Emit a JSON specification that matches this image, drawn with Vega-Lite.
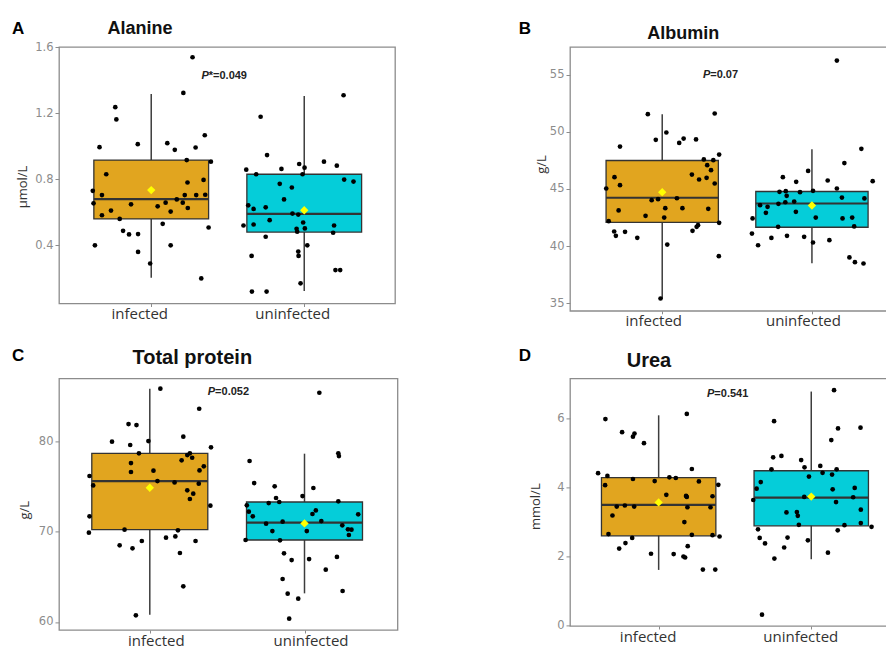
{
"$schema": "https://vega.github.io/schema/vega-lite/v6.json",
"padding": {"left": 10, "top": 18, "right": 0, "bottom": 0},
"background": "white",
"config": {"view": {"stroke": "#8c8c8c", "strokeWidth": 1.3}, "axis": {"grid": false, "domain": false, "tickColor": "#8c8c8c", "tickWidth": 1}, "font": "Liberation Sans"},
"datasets": {
"box": [
{"panel":"A","group":"infected","lower":0.204,"q1":0.56,"median":0.68,"q3":0.916,"upper":1.316,"mean":0.734},
{"panel":"A","group":"uninfected","lower":0.124,"q1":0.48,"median":0.59,"q3":0.83,"upper":1.304,"mean":0.612},
{"panel":"B","group":"infected","lower":35.38,"q1":42.06,"median":44.22,"q3":47.48,"upper":51.53,"mean":44.71},
{"panel":"B","group":"uninfected","lower":38.5,"q1":41.64,"median":43.72,"q3":44.77,"upper":48.47,"mean":43.54},
{"panel":"C","group":"infected","lower":60.81,"q1":70.22,"median":75.61,"q3":78.67,"upper":85.84,"mean":74.87},
{"panel":"C","group":"uninfected","lower":63.17,"q1":69.08,"median":71.0,"q3":73.29,"upper":78.64,"mean":70.92},
{"panel":"D","group":"infected","lower":1.6,"q1":2.59,"median":3.49,"q3":4.28,"upper":6.09,"mean":3.56},
{"panel":"D","group":"uninfected","lower":1.91,"q1":2.88,"median":3.7,"q3":4.48,"upper":6.78,"mean":3.73}
],
"ptext": [
{"panel":"A","label":"*=0.049"},
{"panel":"B","label":"=0.07"},
{"panel":"C","label":"=0.052"},
{"panel":"D","label":"=0.541"}
],
"pts": [
{"panel":"A","group":"infected","value":1.538,"jitter":0.27},{"panel":"A","group":"infected","value":1.322,"jitter":0.21},{"panel":"A","group":"infected","value":1.236,"jitter":-0.235},{"panel":"A","group":"infected","value":1.162,"jitter":-0.228},{"panel":"A","group":"infected","value":1.066,"jitter":0.35},{"panel":"A","group":"infected","value":0.994,"jitter":-0.338},{"panel":"A","group":"infected","value":1.012,"jitter":-0.088},{"panel":"A","group":"infected","value":1.018,"jitter":0.105},{"panel":"A","group":"infected","value":0.978,"jitter":0.154},{"panel":"A","group":"infected","value":0.992,"jitter":0.29},{"panel":"A","group":"infected","value":0.916,"jitter":0.232},{"panel":"A","group":"infected","value":0.906,"jitter":0.39},{"panel":"A","group":"infected","value":0.83,"jitter":-0.294},{"panel":"A","group":"infected","value":0.78,"jitter":0.237},{"panel":"A","group":"infected","value":0.796,"jitter":0.342},{"panel":"A","group":"infected","value":0.73,"jitter":-0.382},{"panel":"A","group":"infected","value":0.704,"jitter":-0.322},{"panel":"A","group":"infected","value":0.654,"jitter":-0.377},{"panel":"A","group":"infected","value":0.648,"jitter":-0.132},{"panel":"A","group":"infected","value":0.61,"jitter":-0.263},{"panel":"A","group":"infected","value":0.582,"jitter":-0.322},{"panel":"A","group":"infected","value":0.56,"jitter":-0.206},{"panel":"A","group":"infected","value":0.636,"jitter":0.042},{"panel":"A","group":"infected","value":0.658,"jitter":0.094},{"panel":"A","group":"infected","value":0.604,"jitter":0.127},{"panel":"A","group":"infected","value":0.678,"jitter":0.167},{"panel":"A","group":"infected","value":0.658,"jitter":0.206},{"panel":"A","group":"infected","value":0.704,"jitter":0.219},{"panel":"A","group":"infected","value":0.626,"jitter":0.239},{"panel":"A","group":"infected","value":0.704,"jitter":0.294},{"panel":"A","group":"infected","value":0.706,"jitter":0.353},{"panel":"A","group":"infected","value":0.53,"jitter":0.075},{"panel":"A","group":"infected","value":0.488,"jitter":-0.184},{"panel":"A","group":"infected","value":0.466,"jitter":-0.145},{"panel":"A","group":"infected","value":0.468,"jitter":-0.086},{"panel":"A","group":"infected","value":0.508,"jitter":0.375},{"panel":"A","group":"infected","value":0.4,"jitter":-0.368},{"panel":"A","group":"infected","value":0.4,"jitter":0.127},{"panel":"A","group":"infected","value":0.36,"jitter":-0.086},{"panel":"A","group":"infected","value":0.29,"jitter":-0.007},{"panel":"A","group":"infected","value":0.2,"jitter":0.327},
{"panel":"A","group":"uninfected","value":1.308,"jitter":0.257},{"panel":"A","group":"uninfected","value":1.178,"jitter":-0.285},{"panel":"A","group":"uninfected","value":0.946,"jitter":-0.243},{"panel":"A","group":"uninfected","value":0.858,"jitter":-0.379},{"panel":"A","group":"uninfected","value":0.83,"jitter":-0.314},{"panel":"A","group":"uninfected","value":0.862,"jitter":-0.149},{"panel":"A","group":"uninfected","value":0.892,"jitter":-0.033},{"panel":"A","group":"uninfected","value":0.87,"jitter":0.002},{"panel":"A","group":"uninfected","value":0.83,"jitter":-0.011},{"panel":"A","group":"uninfected","value":0.906,"jitter":0.129},{"panel":"A","group":"uninfected","value":0.882,"jitter":0.213},{"panel":"A","group":"uninfected","value":0.798,"jitter":0.261},{"panel":"A","group":"uninfected","value":0.786,"jitter":0.322},{"panel":"A","group":"uninfected","value":0.772,"jitter":-0.16},{"panel":"A","group":"uninfected","value":0.75,"jitter":-0.081},{"panel":"A","group":"uninfected","value":0.678,"jitter":-0.132},{"panel":"A","group":"uninfected","value":0.642,"jitter":-0.366},{"panel":"A","group":"uninfected","value":0.62,"jitter":-0.331},{"panel":"A","group":"uninfected","value":0.63,"jitter":-0.252},{"panel":"A","group":"uninfected","value":0.592,"jitter":-0.077},{"panel":"A","group":"uninfected","value":0.586,"jitter":-0.039},{"panel":"A","group":"uninfected","value":0.52,"jitter":-0.397},{"panel":"A","group":"uninfected","value":0.526,"jitter":-0.331},{"panel":"A","group":"uninfected","value":0.552,"jitter":-0.226},{"panel":"A","group":"uninfected","value":0.538,"jitter":-0.007},{"panel":"A","group":"uninfected","value":0.5,"jitter":-0.05},{"panel":"A","group":"uninfected","value":0.482,"jitter":-0.046},{"panel":"A","group":"uninfected","value":0.502,"jitter":0.004},{"panel":"A","group":"uninfected","value":0.52,"jitter":0.195},{"panel":"A","group":"uninfected","value":0.476,"jitter":0.189},{"panel":"A","group":"uninfected","value":0.452,"jitter":-0.252},{"panel":"A","group":"uninfected","value":0.4,"jitter":0.02},{"panel":"A","group":"uninfected","value":0.336,"jitter":-0.344},{"panel":"A","group":"uninfected","value":0.362,"jitter":-0.039},{"panel":"A","group":"uninfected","value":0.336,"jitter":-0.037},{"panel":"A","group":"uninfected","value":0.25,"jitter":0.204},{"panel":"A","group":"uninfected","value":0.25,"jitter":0.235},{"panel":"A","group":"uninfected","value":0.17,"jitter":-0.024},{"panel":"A","group":"uninfected","value":0.12,"jitter":-0.342},{"panel":"A","group":"uninfected","value":0.12,"jitter":-0.246},
{"panel":"B","group":"infected","value":51.53,"jitter":-0.094},{"panel":"B","group":"infected","value":51.59,"jitter":0.343},{"panel":"B","group":"infected","value":49.93,"jitter":0.027},{"panel":"B","group":"infected","value":49.29,"jitter":-0.042},{"panel":"B","group":"infected","value":49.02,"jitter":0.111},{"panel":"B","group":"infected","value":49.4,"jitter":0.14},{"panel":"B","group":"infected","value":49.32,"jitter":0.221},{"panel":"B","group":"infected","value":48.7,"jitter":-0.276},{"panel":"B","group":"infected","value":47.57,"jitter":0.272},{"panel":"B","group":"infected","value":47.51,"jitter":0.334},{"panel":"B","group":"infected","value":48.0,"jitter":0.372},{"panel":"B","group":"infected","value":47.07,"jitter":0.294},{"panel":"B","group":"infected","value":46.63,"jitter":0.319},{"panel":"B","group":"infected","value":46.25,"jitter":0.194},{"panel":"B","group":"infected","value":45.82,"jitter":0.241},{"panel":"B","group":"infected","value":45.96,"jitter":0.29},{"panel":"B","group":"infected","value":45.47,"jitter":0.343},{"panel":"B","group":"infected","value":46.02,"jitter":-0.312},{"panel":"B","group":"infected","value":45.32,"jitter":-0.276},{"panel":"B","group":"infected","value":45.03,"jitter":-0.366},{"panel":"B","group":"infected","value":44.01,"jitter":-0.069},{"panel":"B","group":"infected","value":44.1,"jitter":-0.027},{"panel":"B","group":"infected","value":44.18,"jitter":0.096},{"panel":"B","group":"infected","value":43.11,"jitter":-0.285},{"panel":"B","group":"infected","value":42.64,"jitter":-0.109},{"panel":"B","group":"infected","value":43.31,"jitter":0.02},{"panel":"B","group":"infected","value":43.31,"jitter":0.132},{"panel":"B","group":"infected","value":43.25,"jitter":0.301},{"panel":"B","group":"infected","value":42.49,"jitter":0.013},{"panel":"B","group":"infected","value":42.17,"jitter":-0.35},{"panel":"B","group":"infected","value":42.03,"jitter":0.372},{"panel":"B","group":"infected","value":41.82,"jitter":0.234},{"panel":"B","group":"infected","value":41.68,"jitter":0.225},{"panel":"B","group":"infected","value":41.27,"jitter":-0.314},{"panel":"B","group":"infected","value":40.89,"jitter":-0.303},{"panel":"B","group":"infected","value":41.24,"jitter":-0.243},{"panel":"B","group":"infected","value":40.72,"jitter":-0.163},{"panel":"B","group":"infected","value":41.33,"jitter":0.198},{"panel":"B","group":"infected","value":40.13,"jitter":0.033},{"panel":"B","group":"infected","value":39.11,"jitter":0.37},{"panel":"B","group":"infected","value":35.41,"jitter":-0.011},
{"panel":"B","group":"uninfected","value":56.22,"jitter":0.163},{"panel":"B","group":"uninfected","value":48.5,"jitter":0.323},{"panel":"B","group":"uninfected","value":47.25,"jitter":0.212},{"panel":"B","group":"uninfected","value":46.57,"jitter":-0.025},{"panel":"B","group":"uninfected","value":46.02,"jitter":-0.19},{"panel":"B","group":"uninfected","value":45.61,"jitter":-0.103},{"panel":"B","group":"uninfected","value":45.73,"jitter":0.103},{"panel":"B","group":"uninfected","value":45.67,"jitter":0.397},{"panel":"B","group":"uninfected","value":45.03,"jitter":0.163},{"panel":"B","group":"uninfected","value":44.74,"jitter":-0.212},{"panel":"B","group":"uninfected","value":44.8,"jitter":-0.171},{"panel":"B","group":"uninfected","value":44.39,"jitter":-0.165},{"panel":"B","group":"uninfected","value":44.71,"jitter":-0.078},{"panel":"B","group":"uninfected","value":44.83,"jitter":0.007},{"panel":"B","group":"uninfected","value":44.24,"jitter":0.196},{"panel":"B","group":"uninfected","value":44.16,"jitter":0.343},{"panel":"B","group":"uninfected","value":43.57,"jitter":-0.339},{"panel":"B","group":"uninfected","value":43.43,"jitter":-0.29},{"panel":"B","group":"uninfected","value":43.69,"jitter":-0.219},{"panel":"B","group":"uninfected","value":43.83,"jitter":-0.174},{"panel":"B","group":"uninfected","value":43.89,"jitter":-0.116},{"panel":"B","group":"uninfected","value":42.9,"jitter":-0.301},{"panel":"B","group":"uninfected","value":42.99,"jitter":-0.105},{"panel":"B","group":"uninfected","value":42.49,"jitter":0.025},{"panel":"B","group":"uninfected","value":42.41,"jitter":0.2},{"panel":"B","group":"uninfected","value":42.49,"jitter":0.263},{"panel":"B","group":"uninfected","value":42.41,"jitter":-0.388},{"panel":"B","group":"uninfected","value":41.68,"jitter":-0.221},{"panel":"B","group":"uninfected","value":41.71,"jitter":0.276},{"panel":"B","group":"uninfected","value":41.09,"jitter":-0.392},{"panel":"B","group":"uninfected","value":40.07,"jitter":-0.352},{"panel":"B","group":"uninfected","value":40.71,"jitter":-0.265},{"panel":"B","group":"uninfected","value":40.89,"jitter":-0.163},{"panel":"B","group":"uninfected","value":40.8,"jitter":-0.051},{"panel":"B","group":"uninfected","value":40.31,"jitter":0.007},{"panel":"B","group":"uninfected","value":40.51,"jitter":0.114},{"panel":"B","group":"uninfected","value":39.0,"jitter":0.245},{"panel":"B","group":"uninfected","value":38.59,"jitter":0.281},{"panel":"B","group":"uninfected","value":38.47,"jitter":0.337},
{"panel":"C","group":"infected","value":85.84,"jitter":0.069},{"panel":"C","group":"infected","value":83.62,"jitter":0.323},{"panel":"C","group":"infected","value":81.92,"jitter":-0.139},{"panel":"C","group":"infected","value":81.81,"jitter":-0.087},{"panel":"C","group":"infected","value":79.97,"jitter":-0.247},{"panel":"C","group":"infected","value":80.04,"jitter":-0.009},{"panel":"C","group":"infected","value":80.52,"jitter":0.219},{"panel":"C","group":"infected","value":79.6,"jitter":-0.128},{"panel":"C","group":"infected","value":79.34,"jitter":0.4},{"panel":"C","group":"infected","value":78.68,"jitter":-0.071},{"panel":"C","group":"infected","value":78.49,"jitter":0.245},{"panel":"C","group":"infected","value":78.68,"jitter":0.262},{"panel":"C","group":"infected","value":78.19,"jitter":0.277},{"panel":"C","group":"infected","value":77.9,"jitter":0.208},{"panel":"C","group":"infected","value":77.6,"jitter":-0.123},{"panel":"C","group":"infected","value":76.61,"jitter":-0.123},{"panel":"C","group":"infected","value":76.76,"jitter":0.024},{"panel":"C","group":"infected","value":77.24,"jitter":0.353},{"panel":"C","group":"infected","value":76.79,"jitter":0.325},{"panel":"C","group":"infected","value":76.17,"jitter":-0.394},{"panel":"C","group":"infected","value":75.13,"jitter":-0.37},{"panel":"C","group":"infected","value":75.61,"jitter":0.05},{"panel":"C","group":"infected","value":75.46,"jitter":0.162},{"panel":"C","group":"infected","value":75.32,"jitter":0.32},{"panel":"C","group":"infected","value":74.58,"jitter":0.245},{"panel":"C","group":"infected","value":74.21,"jitter":0.284},{"panel":"C","group":"infected","value":73.62,"jitter":0.262},{"panel":"C","group":"infected","value":72.88,"jitter":0.396},{"panel":"C","group":"infected","value":71.7,"jitter":-0.394},{"panel":"C","group":"infected","value":69.89,"jitter":-0.398},{"panel":"C","group":"infected","value":70.22,"jitter":-0.165},{"panel":"C","group":"infected","value":70.15,"jitter":0.184},{"panel":"C","group":"infected","value":68.97,"jitter":-0.052},{"panel":"C","group":"infected","value":69.34,"jitter":0.106},{"panel":"C","group":"infected","value":69.48,"jitter":0.167},{"panel":"C","group":"infected","value":68.97,"jitter":0.299},{"panel":"C","group":"infected","value":68.49,"jitter":-0.197},{"panel":"C","group":"infected","value":68.16,"jitter":-0.113},{"panel":"C","group":"infected","value":67.64,"jitter":0.197},{"panel":"C","group":"infected","value":63.95,"jitter":0.219},{"panel":"C","group":"infected","value":60.74,"jitter":-0.091},
{"panel":"C","group":"uninfected","value":85.39,"jitter":0.097},{"panel":"C","group":"uninfected","value":78.68,"jitter":0.221},{"panel":"C","group":"uninfected","value":78.38,"jitter":0.225},{"panel":"C","group":"uninfected","value":77.83,"jitter":-0.359},{"panel":"C","group":"uninfected","value":75.39,"jitter":-0.329},{"panel":"C","group":"uninfected","value":75.02,"jitter":-0.195},{"panel":"C","group":"uninfected","value":74.84,"jitter":0.058},{"panel":"C","group":"uninfected","value":73.73,"jitter":-0.186},{"panel":"C","group":"uninfected","value":73.95,"jitter":-0.013},{"panel":"C","group":"uninfected","value":73.17,"jitter":-0.234},{"panel":"C","group":"uninfected","value":73.29,"jitter":-0.165},{"panel":"C","group":"uninfected","value":73.36,"jitter":0.221},{"panel":"C","group":"uninfected","value":72.92,"jitter":-0.377},{"panel":"C","group":"uninfected","value":72.22,"jitter":-0.364},{"panel":"C","group":"uninfected","value":71.7,"jitter":-0.338},{"panel":"C","group":"uninfected","value":72.36,"jitter":0.074},{"panel":"C","group":"uninfected","value":71.96,"jitter":0.052},{"panel":"C","group":"uninfected","value":71.92,"jitter":0.351},{"panel":"C","group":"uninfected","value":70.89,"jitter":-0.251},{"panel":"C","group":"uninfected","value":71.11,"jitter":-0.143},{"panel":"C","group":"uninfected","value":71.18,"jitter":0.11},{"panel":"C","group":"uninfected","value":70.7,"jitter":0.247},{"panel":"C","group":"uninfected","value":70.26,"jitter":0.284},{"panel":"C","group":"uninfected","value":70.22,"jitter":0.307},{"panel":"C","group":"uninfected","value":69.63,"jitter":0.29},{"panel":"C","group":"uninfected","value":70.07,"jitter":-0.21},{"panel":"C","group":"uninfected","value":70.07,"jitter":0.015},{"panel":"C","group":"uninfected","value":69.08,"jitter":-0.385},{"panel":"C","group":"uninfected","value":69.04,"jitter":-0.16},{"panel":"C","group":"uninfected","value":67.6,"jitter":-0.134},{"panel":"C","group":"uninfected","value":66.86,"jitter":-0.084},{"panel":"C","group":"uninfected","value":66.97,"jitter":0.03},{"panel":"C","group":"uninfected","value":67.2,"jitter":0.212},{"panel":"C","group":"uninfected","value":65.79,"jitter":0.139},{"panel":"C","group":"uninfected","value":64.76,"jitter":-0.143},{"panel":"C","group":"uninfected","value":63.13,"jitter":-0.11},{"panel":"C","group":"uninfected","value":62.58,"jitter":-0.041},{"panel":"C","group":"uninfected","value":63.43,"jitter":0.249},{"panel":"C","group":"uninfected","value":60.37,"jitter":-0.1},
{"panel":"D","group":"infected","value":5.98,"jitter":-0.348},{"panel":"D","group":"infected","value":6.13,"jitter":0.184},{"panel":"D","group":"infected","value":5.6,"jitter":-0.239},{"panel":"D","group":"infected","value":5.56,"jitter":-0.158},{"panel":"D","group":"infected","value":5.47,"jitter":-0.168},{"panel":"D","group":"infected","value":5.28,"jitter":-0.096},{"panel":"D","group":"infected","value":4.53,"jitter":0.217},{"panel":"D","group":"infected","value":4.41,"jitter":-0.396},{"panel":"D","group":"infected","value":4.33,"jitter":-0.335},{"panel":"D","group":"infected","value":4.06,"jitter":-0.35},{"panel":"D","group":"infected","value":4.24,"jitter":-0.168},{"panel":"D","group":"infected","value":4.18,"jitter":-0.026},{"panel":"D","group":"infected","value":4.29,"jitter":0.07},{"panel":"D","group":"infected","value":4.27,"jitter":0.112},{"panel":"D","group":"infected","value":4.17,"jitter":0.263},{"panel":"D","group":"infected","value":4.07,"jitter":0.39},{"panel":"D","group":"infected","value":3.78,"jitter":0.05},{"panel":"D","group":"infected","value":3.75,"jitter":0.179},{"panel":"D","group":"infected","value":3.72,"jitter":0.184},{"panel":"D","group":"infected","value":3.74,"jitter":0.352},{"panel":"D","group":"infected","value":3.44,"jitter":-0.274},{"panel":"D","group":"infected","value":3.47,"jitter":-0.221},{"panel":"D","group":"infected","value":3.44,"jitter":-0.16},{"panel":"D","group":"infected","value":3.42,"jitter":0.188},{"panel":"D","group":"infected","value":3.42,"jitter":0.339},{"panel":"D","group":"infected","value":3.18,"jitter":-0.302},{"panel":"D","group":"infected","value":2.99,"jitter":0.168},{"panel":"D","group":"infected","value":2.64,"jitter":-0.328},{"panel":"D","group":"infected","value":2.53,"jitter":-0.173},{"panel":"D","group":"infected","value":2.62,"jitter":0.217},{"panel":"D","group":"infected","value":2.61,"jitter":0.352},{"panel":"D","group":"infected","value":2.57,"jitter":0.398},{"panel":"D","group":"infected","value":2.38,"jitter":-0.217},{"panel":"D","group":"infected","value":2.29,"jitter":0.19},{"panel":"D","group":"infected","value":2.22,"jitter":-0.258},{"panel":"D","group":"infected","value":2.07,"jitter":-0.05},{"panel":"D","group":"infected","value":2.06,"jitter":0.098},{"panel":"D","group":"infected","value":1.99,"jitter":0.162},{"panel":"D","group":"infected","value":1.96,"jitter":0.173},{"panel":"D","group":"infected","value":1.61,"jitter":0.289},{"panel":"D","group":"infected","value":1.61,"jitter":0.37},
{"panel":"D","group":"uninfected","value":6.82,"jitter":0.149},{"panel":"D","group":"uninfected","value":5.92,"jitter":-0.243},{"panel":"D","group":"uninfected","value":5.71,"jitter":0.175},{"panel":"D","group":"uninfected","value":5.73,"jitter":0.322},{"panel":"D","group":"uninfected","value":5.37,"jitter":0.131},{"panel":"D","group":"uninfected","value":4.87,"jitter":-0.249},{"panel":"D","group":"uninfected","value":4.91,"jitter":-0.195},{"panel":"D","group":"uninfected","value":4.79,"jitter":-0.066},{"panel":"D","group":"uninfected","value":4.52,"jitter":-0.26},{"panel":"D","group":"uninfected","value":4.58,"jitter":-0.044},{"panel":"D","group":"uninfected","value":4.62,"jitter":0.059},{"panel":"D","group":"uninfected","value":4.42,"jitter":0.074},{"panel":"D","group":"uninfected","value":4.37,"jitter":0.136},{"panel":"D","group":"uninfected","value":4.52,"jitter":0.166},{"panel":"D","group":"uninfected","value":4.31,"jitter":-0.015},{"panel":"D","group":"uninfected","value":4.15,"jitter":-0.33},{"panel":"D","group":"uninfected","value":3.96,"jitter":-0.357},{"panel":"D","group":"uninfected","value":3.94,"jitter":0.14},{"panel":"D","group":"uninfected","value":3.98,"jitter":0.284},{"panel":"D","group":"uninfected","value":3.63,"jitter":-0.379},{"panel":"D","group":"uninfected","value":3.72,"jitter":-0.046},{"panel":"D","group":"uninfected","value":3.57,"jitter":0.162},{"panel":"D","group":"uninfected","value":3.71,"jitter":0.274},{"panel":"D","group":"uninfected","value":3.27,"jitter":-0.162},{"panel":"D","group":"uninfected","value":3.28,"jitter":-0.094},{"panel":"D","group":"uninfected","value":3.17,"jitter":-0.088},{"panel":"D","group":"uninfected","value":3.35,"jitter":0.324},{"panel":"D","group":"uninfected","value":2.91,"jitter":-0.081},{"panel":"D","group":"uninfected","value":2.9,"jitter":0.217},{"panel":"D","group":"uninfected","value":2.96,"jitter":0.324},{"panel":"D","group":"uninfected","value":2.85,"jitter":0.394},{"panel":"D","group":"uninfected","value":2.78,"jitter":-0.348},{"panel":"D","group":"uninfected","value":2.53,"jitter":-0.337},{"panel":"D","group":"uninfected","value":2.37,"jitter":-0.302},{"panel":"D","group":"uninfected","value":2.54,"jitter":-0.155},{"panel":"D","group":"uninfected","value":2.75,"jitter":0.173},{"panel":"D","group":"uninfected","value":2.46,"jitter":-0.022},{"panel":"D","group":"uninfected","value":2.25,"jitter":-0.177},{"panel":"D","group":"uninfected","value":2.1,"jitter":0.109},{"panel":"D","group":"uninfected","value":1.93,"jitter":-0.241},{"panel":"D","group":"uninfected","value":0.3,"jitter":-0.322}
]
},
"columns": 2, "bounds": "flush", "align": "each", "spacing": {"row": 67.4, "column": 172},
"concat": [
{
"width": 336, "height": 256.5,
"title": {"text": "Alanine", "anchor": "start", "frame": "group", "dx": 48.5, "offset": -32.7, "baseline": "alphabetic", "fontSize": 18, "font": "Liberation Sans", "fontWeight": "bold", "color": "#111"},
"layer": [
{"data": {"name": "box"}, "transform": [{"filter": "datum.panel == 'A'"}], "mark": {"type": "rule", "color": "#3d3d3d", "strokeWidth": 1.5},
 "encoding": {
  "x": {"field": "group", "type": "nominal", "scale": {"type": "point", "domain": ["infected", "uninfected"], "padding": 0.598, "align": 0.504}, "axis": {"title": "A", "titleX": -47.5, "titleY": -270.3, "titleAlign": "left", "titleBaseline": "alphabetic", "titleAngle": 0, "titleFontSize": 17, "titleFont": "Liberation Sans", "titleFontWeight": "bold", "titleColor": "#000", "labelAngle": 0, "labelOffset": -12, "labelFontSize": 15, "labelFont": "Open Sans", "labelColor": "#333", "labelPadding": 0, "tickSize": 3}},
  "y": {"field": "lower", "type": "quantitative", "scale": {"domain": [0.048, 1.6], "nice": false, "zero": false}, "axis": {"title": "µmol/L", "values": [0.4, 0.8, 1.2, 1.6], "format": ".1f", "titleX": -36.5, "titleY": 139.5, "titleAngle": -90, "titleAlign": "center", "titleBaseline": "middle", "titleFont": "Open Sans", "titleFontSize": 13, "titleFontWeight": "normal", "titleColor": "#333", "labelFont": "DejaVu Sans", "labelFontSize": 11.5, "labelColor": "#8c8c8c", "tickSize": 4, "labelPadding": 2}},
  "y2": {"field": "upper"}}},
{"data": {"name": "box"}, "transform": [{"filter": "datum.panel == 'A'"}], "mark": {"type": "bar", "width": 114.75, "stroke": "#333", "strokeWidth": 1.3},
 "encoding": {
  "x": {"field": "group", "type": "nominal", "scale": {"type": "point", "domain": ["infected", "uninfected"], "padding": 0.598, "align": 0.504}},
  "y": {"field": "q1", "type": "quantitative", "scale": {"domain": [0.048, 1.6], "nice": false, "zero": false}},
  "y2": {"field": "q3"},
  "fill": {"field": "group", "type": "nominal", "scale": {"domain": ["infected", "uninfected"], "range": ["#E1A51F", "#05CDD9"]}, "legend": null}}},
{"data": {"name": "box"}, "transform": [{"filter": "datum.panel == 'A'"}], "mark": {"type": "tick", "size": 114.75, "thickness": 2.2, "color": "#333", "orient": "horizontal", "opacity": 1},
 "encoding": {
  "x": {"field": "group", "type": "nominal", "scale": {"type": "point", "domain": ["infected", "uninfected"], "padding": 0.598, "align": 0.504}},
  "y": {"field": "median", "type": "quantitative", "scale": {"domain": [0.048, 1.6], "nice": false, "zero": false}}}},
{"data": {"name": "pts"}, "transform": [{"filter": "datum.panel == 'A'"}], "mark": {"type": "circle", "size": 22, "color": "#000", "opacity": 1},
 "encoding": {
  "x": {"field": "group", "type": "nominal", "scale": {"type": "point", "domain": ["infected", "uninfected"], "padding": 0.598, "align": 0.504}},
  "xOffset": {"field": "jitter", "type": "quantitative", "scale": {"domain": [-1, 1], "range": [-153, 153]}},
  "y": {"field": "value", "type": "quantitative", "scale": {"domain": [0.048, 1.6], "nice": false, "zero": false}}}},
{"data": {"name": "box"}, "transform": [{"filter": "datum.panel == 'A'"}], "mark": {"type": "point", "shape": "diamond", "size": 70, "filled": true, "color": "#FFFF00", "opacity": 1},
 "encoding": {
  "x": {"field": "group", "type": "nominal", "scale": {"type": "point", "domain": ["infected", "uninfected"], "padding": 0.598, "align": 0.504}},
  "y": {"field": "mean", "type": "quantitative", "scale": {"domain": [0.048, 1.6], "nice": false, "zero": false}}}},
{"data": {"name": "ptext"}, "transform": [{"filter": "datum.panel == 'A'"}], "mark": {"type": "text", "text": "P", "align": "right", "baseline": "middle", "font": "Liberation Sans", "fontSize": 11, "fontWeight": "bold", "fontStyle": "italic", "color": "#222"},
 "encoding": {
  "x": {"datum": "infected", "type": "nominal", "scale": {"type": "point", "domain": ["infected", "uninfected"], "padding": 0.598, "align": 0.504}},
  "xOffset": {"datum": 0.376, "type": "quantitative", "scale": {"domain": [-1, 1], "range": [-153, 153]}},
  "y": {"datum": 1.424, "type": "quantitative", "scale": {"domain": [0.048, 1.6], "nice": false, "zero": false}}}},
{"data": {"name": "ptext"}, "transform": [{"filter": "datum.panel == 'A'"}], "mark": {"type": "text", "align": "left", "baseline": "middle", "font": "Liberation Sans", "fontSize": 11, "fontWeight": "bold", "color": "#222"},
 "encoding": {
  "x": {"datum": "infected", "type": "nominal", "scale": {"type": "point", "domain": ["infected", "uninfected"], "padding": 0.598, "align": 0.504}},
  "xOffset": {"datum": 0.376, "type": "quantitative", "scale": {"domain": [-1, 1], "range": [-153, 153]}},
  "y": {"datum": 1.424, "type": "quantitative", "scale": {"domain": [0.048, 1.6], "nice": false, "zero": false}},
  "text": {"field": "label"}}}
]
},
{
"width": 318, "height": 263.8,
"title": {"text": "Albumin", "anchor": "start", "frame": "group", "dx": 77.3, "offset": -37.6, "baseline": "alphabetic", "fontSize": 18, "font": "Liberation Sans", "fontWeight": "bold", "color": "#111"},
"layer": [
{"data": {"name": "box"}, "transform": [{"filter": "datum.panel == 'B'"}], "mark": {"type": "rule", "color": "#3d3d3d", "strokeWidth": 1.5},
 "encoding": {
  "x": {"field": "group", "type": "nominal", "scale": {"type": "point", "domain": ["infected", "uninfected"], "padding": 0.562, "align": 0.548}, "axis": {"title": "B", "titleX": -51.7, "titleY": -277.3, "titleAlign": "left", "titleBaseline": "alphabetic", "titleAngle": 0, "titleFontSize": 17, "titleFont": "Liberation Sans", "titleFontWeight": "bold", "titleColor": "#000", "labelAngle": 0, "labelOffset": -9, "labelFontSize": 15, "labelFont": "Open Sans", "labelColor": "#333", "labelPadding": 0, "tickSize": 3}},
  "y": {"field": "lower", "type": "quantitative", "scale": {"domain": [34.335, 57.405], "nice": false, "zero": false}, "axis": {"title": "g/L", "values": [35, 40, 45, 50, 55], "format": "d", "titleX": -28.3, "titleY": 117, "titleAngle": -90, "titleAlign": "center", "titleBaseline": "middle", "titleFont": "Open Sans", "titleFontSize": 13, "titleFontWeight": "normal", "titleColor": "#333", "labelFont": "DejaVu Sans", "labelFontSize": 11.5, "labelColor": "#8c8c8c", "tickSize": 4, "labelPadding": 2}},
  "y2": {"field": "upper"}}},
{"data": {"name": "box"}, "transform": [{"filter": "datum.panel == 'B'"}], "mark": {"type": "bar", "width": 112.3, "stroke": "#333", "strokeWidth": 1.3},
 "encoding": {
  "x": {"field": "group", "type": "nominal", "scale": {"type": "point", "domain": ["infected", "uninfected"], "padding": 0.562, "align": 0.548}},
  "y": {"field": "q1", "type": "quantitative", "scale": {"domain": [34.335, 57.405], "nice": false, "zero": false}},
  "y2": {"field": "q3"},
  "fill": {"field": "group", "type": "nominal", "scale": {"domain": ["infected", "uninfected"], "range": ["#E1A51F", "#05CDD9"]}, "legend": null}}},
{"data": {"name": "box"}, "transform": [{"filter": "datum.panel == 'B'"}], "mark": {"type": "tick", "size": 112.3, "thickness": 2.2, "color": "#333", "orient": "horizontal", "opacity": 1},
 "encoding": {
  "x": {"field": "group", "type": "nominal", "scale": {"type": "point", "domain": ["infected", "uninfected"], "padding": 0.562, "align": 0.548}},
  "y": {"field": "median", "type": "quantitative", "scale": {"domain": [34.335, 57.405], "nice": false, "zero": false}}}},
{"data": {"name": "pts"}, "transform": [{"filter": "datum.panel == 'B'"}], "mark": {"type": "circle", "size": 22, "color": "#000", "opacity": 1},
 "encoding": {
  "x": {"field": "group", "type": "nominal", "scale": {"type": "point", "domain": ["infected", "uninfected"], "padding": 0.562, "align": 0.548}},
  "xOffset": {"field": "jitter", "type": "quantitative", "scale": {"domain": [-1, 1], "range": [-149.7, 149.7]}},
  "y": {"field": "value", "type": "quantitative", "scale": {"domain": [34.335, 57.405], "nice": false, "zero": false}}}},
{"data": {"name": "box"}, "transform": [{"filter": "datum.panel == 'B'"}], "mark": {"type": "point", "shape": "diamond", "size": 70, "filled": true, "color": "#FFFF00", "opacity": 1},
 "encoding": {
  "x": {"field": "group", "type": "nominal", "scale": {"type": "point", "domain": ["infected", "uninfected"], "padding": 0.562, "align": 0.548}},
  "y": {"field": "mean", "type": "quantitative", "scale": {"domain": [34.335, 57.405], "nice": false, "zero": false}}}},
{"data": {"name": "ptext"}, "transform": [{"filter": "datum.panel == 'B'"}], "mark": {"type": "text", "text": "P", "align": "right", "baseline": "middle", "font": "Liberation Sans", "fontSize": 11, "fontWeight": "bold", "fontStyle": "italic", "color": "#222"},
 "encoding": {
  "x": {"datum": "infected", "type": "nominal", "scale": {"type": "point", "domain": ["infected", "uninfected"], "padding": 0.562, "align": 0.548}},
  "xOffset": {"datum": 0.314, "type": "quantitative", "scale": {"domain": [-1, 1], "range": [-149.7, 149.7]}},
  "y": {"datum": 55.0, "type": "quantitative", "scale": {"domain": [34.335, 57.405], "nice": false, "zero": false}}}},
{"data": {"name": "ptext"}, "transform": [{"filter": "datum.panel == 'B'"}], "mark": {"type": "text", "align": "left", "baseline": "middle", "font": "Liberation Sans", "fontSize": 11, "fontWeight": "bold", "color": "#222"},
 "encoding": {
  "x": {"datum": "infected", "type": "nominal", "scale": {"type": "point", "domain": ["infected", "uninfected"], "padding": 0.562, "align": 0.548}},
  "xOffset": {"datum": 0.314, "type": "quantitative", "scale": {"domain": [-1, 1], "range": [-149.7, 149.7]}},
  "y": {"datum": 55.0, "type": "quantitative", "scale": {"domain": [34.335, 57.405], "nice": false, "zero": false}},
  "text": {"field": "label"}}}
]
},
{
"width": 338.5, "height": 251.6,
"title": {"text": "Total protein", "anchor": "start", "frame": "group", "dx": 73.5, "offset": -38.0, "baseline": "alphabetic", "fontSize": 20, "font": "Liberation Sans", "fontWeight": "bold", "color": "#111"},
"layer": [
{"data": {"name": "box"}, "transform": [{"filter": "datum.panel == 'C'"}], "mark": {"type": "rule", "color": "#3d3d3d", "strokeWidth": 1.5},
 "encoding": {
  "x": {"field": "group", "type": "nominal", "scale": {"type": "point", "domain": ["infected", "uninfected"], "padding": 0.594, "align": 0.494}, "axis": {"title": "C", "titleX": -47.5, "titleY": -270, "titleAlign": "left", "titleBaseline": "alphabetic", "titleAngle": 0, "titleFontSize": 17, "titleFont": "Liberation Sans", "titleFontWeight": "bold", "titleColor": "#000", "labelAngle": 0, "labelOffset": 6, "labelFontSize": 15, "labelFont": "Open Sans", "labelColor": "#333", "labelPadding": 0, "tickSize": 3}},
  "y": {"field": "lower", "type": "quantitative", "scale": {"domain": [59.11, 86.98], "nice": false, "zero": false}, "axis": {"title": "g/L", "values": [60, 70, 80], "format": "d", "titleX": -34.2, "titleY": 131.3, "titleAngle": -90, "titleAlign": "center", "titleBaseline": "middle", "titleFont": "Open Sans", "titleFontSize": 13, "titleFontWeight": "normal", "titleColor": "#333", "labelFont": "DejaVu Sans", "labelFontSize": 11.5, "labelColor": "#8c8c8c", "tickSize": 4, "labelPadding": 2}},
  "y2": {"field": "upper"}}},
{"data": {"name": "box"}, "transform": [{"filter": "datum.panel == 'C'"}], "mark": {"type": "bar", "width": 116, "stroke": "#333", "strokeWidth": 1.3},
 "encoding": {
  "x": {"field": "group", "type": "nominal", "scale": {"type": "point", "domain": ["infected", "uninfected"], "padding": 0.594, "align": 0.494}},
  "y": {"field": "q1", "type": "quantitative", "scale": {"domain": [59.11, 86.98], "nice": false, "zero": false}},
  "y2": {"field": "q3"},
  "fill": {"field": "group", "type": "nominal", "scale": {"domain": ["infected", "uninfected"], "range": ["#E1A51F", "#05CDD9"]}, "legend": null}}},
{"data": {"name": "box"}, "transform": [{"filter": "datum.panel == 'C'"}], "mark": {"type": "tick", "size": 116, "thickness": 2.2, "color": "#333", "orient": "horizontal", "opacity": 1},
 "encoding": {
  "x": {"field": "group", "type": "nominal", "scale": {"type": "point", "domain": ["infected", "uninfected"], "padding": 0.594, "align": 0.494}},
  "y": {"field": "median", "type": "quantitative", "scale": {"domain": [59.11, 86.98], "nice": false, "zero": false}}}},
{"data": {"name": "pts"}, "transform": [{"filter": "datum.panel == 'C'"}], "mark": {"type": "circle", "size": 22, "color": "#000", "opacity": 1},
 "encoding": {
  "x": {"field": "group", "type": "nominal", "scale": {"type": "point", "domain": ["infected", "uninfected"], "padding": 0.594, "align": 0.494}},
  "xOffset": {"field": "jitter", "type": "quantitative", "scale": {"domain": [-1, 1], "range": [-154.7, 154.7]}},
  "y": {"field": "value", "type": "quantitative", "scale": {"domain": [59.11, 86.98], "nice": false, "zero": false}}}},
{"data": {"name": "box"}, "transform": [{"filter": "datum.panel == 'C'"}], "mark": {"type": "point", "shape": "diamond", "size": 70, "filled": true, "color": "#FFFF00", "opacity": 1},
 "encoding": {
  "x": {"field": "group", "type": "nominal", "scale": {"type": "point", "domain": ["infected", "uninfected"], "padding": 0.594, "align": 0.494}},
  "y": {"field": "mean", "type": "quantitative", "scale": {"domain": [59.11, 86.98], "nice": false, "zero": false}}}},
{"data": {"name": "ptext"}, "transform": [{"filter": "datum.panel == 'C'"}], "mark": {"type": "text", "text": "P", "align": "right", "baseline": "middle", "font": "Liberation Sans", "fontSize": 11, "fontWeight": "bold", "fontStyle": "italic", "color": "#222"},
 "encoding": {
  "x": {"datum": "infected", "type": "nominal", "scale": {"type": "point", "domain": ["infected", "uninfected"], "padding": 0.594, "align": 0.494}},
  "xOffset": {"datum": 0.427, "type": "quantitative", "scale": {"domain": [-1, 1], "range": [-154.7, 154.7]}},
  "y": {"datum": 85.43, "type": "quantitative", "scale": {"domain": [59.11, 86.98], "nice": false, "zero": false}}}},
{"data": {"name": "ptext"}, "transform": [{"filter": "datum.panel == 'C'"}], "mark": {"type": "text", "align": "left", "baseline": "middle", "font": "Liberation Sans", "fontSize": 11, "fontWeight": "bold", "color": "#222"},
 "encoding": {
  "x": {"datum": "infected", "type": "nominal", "scale": {"type": "point", "domain": ["infected", "uninfected"], "padding": 0.594, "align": 0.494}},
  "xOffset": {"datum": 0.427, "type": "quantitative", "scale": {"domain": [-1, 1], "range": [-154.7, 154.7]}},
  "y": {"datum": 85.43, "type": "quantitative", "scale": {"domain": [59.11, 86.98], "nice": false, "zero": false}},
  "text": {"field": "label"}}}
]
},
{
"width": 318, "height": 247.6,
"title": {"text": "Urea", "anchor": "start", "frame": "group", "dx": 56.7, "offset": -39.9, "baseline": "alphabetic", "fontSize": 20, "font": "Liberation Sans", "fontWeight": "bold", "color": "#111"},
"layer": [
{"data": {"name": "box"}, "transform": [{"filter": "datum.panel == 'D'"}], "mark": {"type": "rule", "color": "#3d3d3d", "strokeWidth": 1.5},
 "encoding": {
  "x": {"field": "group", "type": "nominal", "scale": {"type": "point", "domain": ["infected", "uninfected"], "padding": 0.542, "align": 0.536}, "axis": {"title": "D", "titleX": -51.7, "titleY": -265.3, "titleAlign": "left", "titleBaseline": "alphabetic", "titleAngle": 0, "titleFontSize": 17, "titleFont": "Liberation Sans", "titleFontWeight": "bold", "titleColor": "#000", "labelAngle": 0, "labelOffset": -11, "labelFontSize": 15, "labelFont": "Open Sans", "labelColor": "#333", "labelPadding": 0, "tickSize": 3}},
  "y": {"field": "lower", "type": "quantitative", "scale": {"domain": [-0.029, 7.162], "nice": false, "zero": false}, "axis": {"title": "mmol/L", "values": [0, 2, 4, 6], "format": "d", "titleX": -35, "titleY": 127.8, "titleAngle": -90, "titleAlign": "center", "titleBaseline": "middle", "titleFont": "Open Sans", "titleFontSize": 13, "titleFontWeight": "normal", "titleColor": "#333", "labelFont": "DejaVu Sans", "labelFontSize": 11.5, "labelColor": "#8c8c8c", "tickSize": 4, "labelPadding": 2}},
  "y2": {"field": "upper"}}},
{"data": {"name": "box"}, "transform": [{"filter": "datum.panel == 'D'"}], "mark": {"type": "bar", "width": 114.4, "stroke": "#333", "strokeWidth": 1.3},
 "encoding": {
  "x": {"field": "group", "type": "nominal", "scale": {"type": "point", "domain": ["infected", "uninfected"], "padding": 0.542, "align": 0.536}},
  "y": {"field": "q1", "type": "quantitative", "scale": {"domain": [-0.029, 7.162], "nice": false, "zero": false}},
  "y2": {"field": "q3"},
  "fill": {"field": "group", "type": "nominal", "scale": {"domain": ["infected", "uninfected"], "range": ["#E1A51F", "#05CDD9"]}, "legend": null}}},
{"data": {"name": "box"}, "transform": [{"filter": "datum.panel == 'D'"}], "mark": {"type": "tick", "size": 114.4, "thickness": 2.2, "color": "#333", "orient": "horizontal", "opacity": 1},
 "encoding": {
  "x": {"field": "group", "type": "nominal", "scale": {"type": "point", "domain": ["infected", "uninfected"], "padding": 0.542, "align": 0.536}},
  "y": {"field": "median", "type": "quantitative", "scale": {"domain": [-0.029, 7.162], "nice": false, "zero": false}}}},
{"data": {"name": "pts"}, "transform": [{"filter": "datum.panel == 'D'"}], "mark": {"type": "circle", "size": 22, "color": "#000", "opacity": 1},
 "encoding": {
  "x": {"field": "group", "type": "nominal", "scale": {"type": "point", "domain": ["infected", "uninfected"], "padding": 0.542, "align": 0.536}},
  "xOffset": {"field": "jitter", "type": "quantitative", "scale": {"domain": [-1, 1], "range": [-152.6, 152.6]}},
  "y": {"field": "value", "type": "quantitative", "scale": {"domain": [-0.029, 7.162], "nice": false, "zero": false}}}},
{"data": {"name": "box"}, "transform": [{"filter": "datum.panel == 'D'"}], "mark": {"type": "point", "shape": "diamond", "size": 70, "filled": true, "color": "#FFFF00", "opacity": 1},
 "encoding": {
  "x": {"field": "group", "type": "nominal", "scale": {"type": "point", "domain": ["infected", "uninfected"], "padding": 0.542, "align": 0.536}},
  "y": {"field": "mean", "type": "quantitative", "scale": {"domain": [-0.029, 7.162], "nice": false, "zero": false}}}},
{"data": {"name": "ptext"}, "transform": [{"filter": "datum.panel == 'D'"}], "mark": {"type": "text", "text": "P", "align": "right", "baseline": "middle", "font": "Liberation Sans", "fontSize": 11, "fontWeight": "bold", "fontStyle": "italic", "color": "#222"},
 "encoding": {
  "x": {"datum": "infected", "type": "nominal", "scale": {"type": "point", "domain": ["infected", "uninfected"], "padding": 0.542, "align": 0.536}},
  "xOffset": {"datum": 0.364, "type": "quantitative", "scale": {"domain": [-1, 1], "range": [-152.6, 152.6]}},
  "y": {"datum": 6.7, "type": "quantitative", "scale": {"domain": [-0.029, 7.162], "nice": false, "zero": false}}}},
{"data": {"name": "ptext"}, "transform": [{"filter": "datum.panel == 'D'"}], "mark": {"type": "text", "align": "left", "baseline": "middle", "font": "Liberation Sans", "fontSize": 11, "fontWeight": "bold", "color": "#222"},
 "encoding": {
  "x": {"datum": "infected", "type": "nominal", "scale": {"type": "point", "domain": ["infected", "uninfected"], "padding": 0.542, "align": 0.536}},
  "xOffset": {"datum": 0.364, "type": "quantitative", "scale": {"domain": [-1, 1], "range": [-152.6, 152.6]}},
  "y": {"datum": 6.7, "type": "quantitative", "scale": {"domain": [-0.029, 7.162], "nice": false, "zero": false}},
  "text": {"field": "label"}}}
]
}
]
}
